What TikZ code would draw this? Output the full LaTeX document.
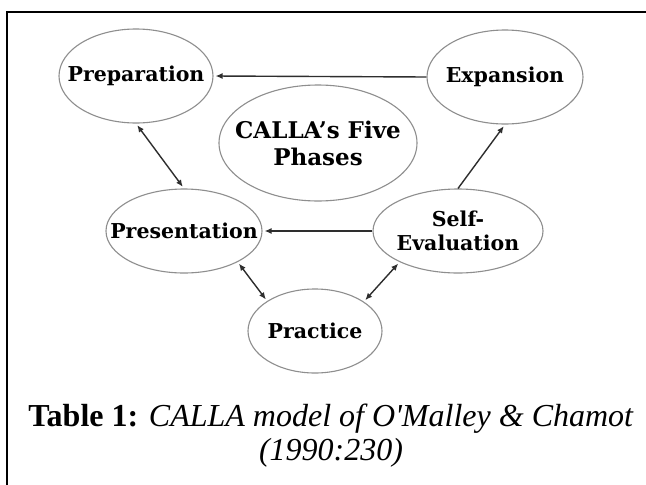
\documentclass[tikz,border=0pt]{standalone}
\usepackage{fontspec}
\setmainfont{Liberation Serif}[Ligatures=TeXOff]
\newfontfamily\lblfont{DejaVu Serif}
\usetikzlibrary{shapes.geometric,arrows.meta}
\definecolor{ellgray}{HTML}{8E8E8E}
\definecolor{arrgray}{HTML}{2E2E2E}
\begin{document}
\begin{tikzpicture}[x=1pt,y=-1pt,
  phase/.style={ellipse, draw=ellgray, line width=1.1pt, inner sep=0pt},
  phasetext/.style={inner sep=0pt, align=center,
    font=\lblfont\bfseries\fontsize{20.5}{24}\selectfont},
  conn/.style={draw=arrgray, line width=1.4pt},
  onetip/.style={-{Latex[length=7pt,width=6pt]}, shorten >=2pt},
  twotips/.style={{Latex[length=7pt,width=6pt]}-{Latex[length=7pt,width=6pt]}, shorten >=2pt, shorten <=2pt}
]
\useasboundingbox (0,0) rectangle (646,485);
\fill[white] (0,0) rectangle (646,485);
% frame
\draw[line width=2pt] (7,490) -- (7,12) -- (650,12);

% phases
\node[phase, minimum width=154pt, minimum height=94pt,
  label={[phasetext]center:Preparation}] (prep) at (136,76) {};
\node[phase, minimum width=156pt, minimum height=94pt,
  label={[phasetext]center:Expansion}] (exp) at (505,77) {};
\node[phase, minimum width=198pt, minimum height=116pt,
  label={[phasetext, font=\lblfont\bfseries\fontsize{23}{27}\selectfont]center:{CALLA’s Five\\Phases}}] (calla) at (318,143) {};
\node[phase, minimum width=156pt, minimum height=84pt,
  label={[phasetext]center:Presentation}] (pres) at (184,231) {};
\node[phase, minimum width=170pt, minimum height=84pt,
  label={[phasetext]center:{Self-\\Evaluation}}] (self) at (458,231) {};
\node[phase, minimum width=134pt, minimum height=84pt,
  label={[phasetext]center:Practice}] (prac) at (315,331) {};

% connectors
\draw[conn, onetip] (exp.west) -- (prep.east);
\draw[conn, twotips] (prep.south) -- (pres.north);
\draw[conn, onetip] (self.north) -- (exp.south);
\draw[conn, onetip] (self.west) -- (pres.east);
\draw[conn, twotips] (pres.-30) -- (prac.148);
\draw[conn, twotips] (self.-152) -- (prac.31);

% caption
\node[anchor=base, align=center, inner sep=0pt, font=\fontsize{32}{34}\selectfont] (cap) at (331,460)
  {\textbf{Table 1:} \textit{CALLA model of O'Malley \& Chamot}\\\textit{(1990:230)}};
\end{tikzpicture}
\end{document}
